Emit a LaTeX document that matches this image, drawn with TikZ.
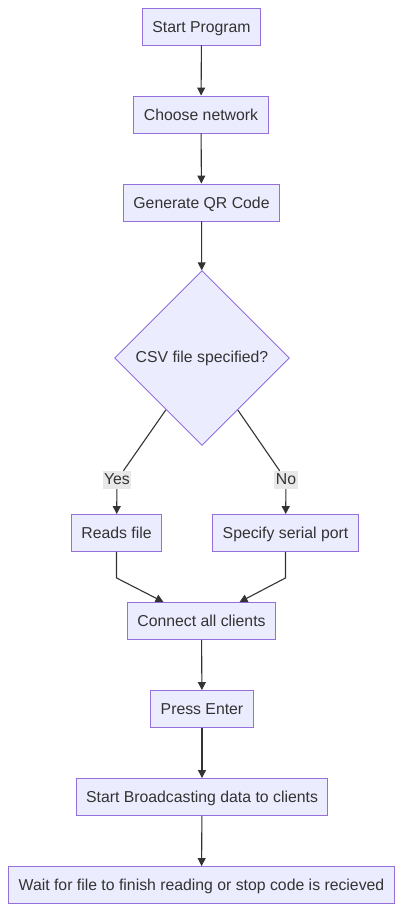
\documentclass[tikz,border=0pt]{standalone}
\usepackage{fontspec}
\setmainfont{Liberation Sans}
\usepackage{xcolor}
\usepackage{tikz}
\usetikzlibrary{positioning, arrows.meta, shapes.geometric}
\definecolor{mFill}{HTML}{ECECFF}
\definecolor{mLine}{HTML}{9370DB}
\definecolor{mInk}{HTML}{333333}
\definecolor{mLbl}{HTML}{E8E8E8}

\tikzset{
  procBox/.style={draw=mLine, fill=mFill, line width=0.9pt, text=mInk, font=\fontsize{15.8}{18}\selectfont,
    minimum height=37pt, inner xsep=10pt, text height=12.5pt, text depth=1.5pt},
  decBox/.style={diamond, aspect=1, draw=mLine, fill=mFill, line width=0.9pt, text=mInk, inner sep=0pt,
    minimum size=175pt, font=\fontsize{15.8}{18}\selectfont},
  edgeLbl/.style={fill=mLbl, text=mInk, inner xsep=1.5pt, inner ysep=2pt, font=\fontsize{15.8}{18}\selectfont,
    text height=11.5pt, text depth=2.5pt},
  flow/.style={draw=mInk, line width=1.1pt, -{Triangle[length=8pt,width=8pt]}},
  flowPlain/.style={draw=mInk, line width=1.1pt}
}

\begin{document}
\begin{tikzpicture}[x=1pt, y=-1pt]
  \useasboundingbox (0,0) rectangle (403,913);
  % main column
  \node[procBox] (start) at (201.5,26.5) {Start Program};
  \node[procBox] (net) at (201,114.5) {Choose network};
  \node[procBox] (qr) at (201.5,202.5) {Generate QR Code};
  \node[decBox] (csv) at (202,358) {CSV file specified?};
  % the two branches
  \node[edgeLbl] (yesLbl) at (117,480) {Yes};
  \node[edgeLbl] (noLbl) at (286,480) {No};
  \node[procBox] (reads) at (116.5,533) {Reads file};
  \node[procBox] (serial) at (285.5,533) {Specify serial port};
  % joined again
  \node[procBox] (conn) at (201.5,621) {Connect all clients};
  \node[procBox] (enter) at (202,709) {Press Enter};
  \node[procBox] (bcast) at (202,797) {Start Broadcasting data to clients};
  \node[procBox] (wait) at (201.5,885) {Wait for file to finish reading or stop code is recieved};

  \draw[flow] (start) -- (net);
  \draw[flow] (net) -- (qr);
  \draw[flow] (qr) -- (csv);
  \draw[flowPlain] (csv) -- (yesLbl);
  \draw[flowPlain] (csv) -- (noLbl);
  \draw[flow] (yesLbl) -- (reads);
  \draw[flow] (noLbl) -- (serial);
  \draw[flow] (reads.south) -- ++(0,26) -- ([xshift=-38pt]conn.north);
  \draw[flow] (serial.south) -- ++(0,26) -- ([xshift=38pt]conn.north);
  \draw[flow] (conn) -- (enter);
  \draw[flow] (enter) -- (bcast);
  \draw[flow] (bcast) -- (wait);
\end{tikzpicture}
\end{document}
